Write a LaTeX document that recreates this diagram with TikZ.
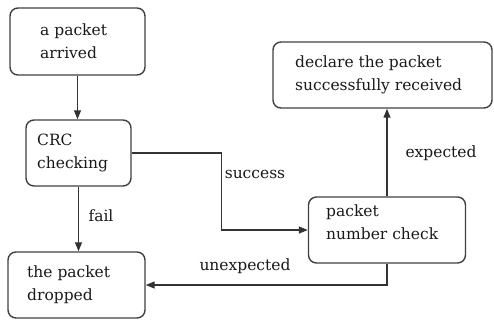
\documentclass[tikz,border=0pt]{standalone}
\usepackage{fontspec}
\setmainfont{DejaVu Serif}
\usetikzlibrary{arrows.meta}
\begin{document}
\begin{tikzpicture}[x=1pt,y=-1pt,
  box/.style={draw=black!75,line width=1.4pt,rounded corners=8pt,inner sep=0pt},
  txt/.style={align=left,inner sep=0pt,font=\fontsize{15.5}{23}\selectfont,text=black!90},
  lbl/.style={inner sep=0pt,font=\fontsize{15.5}{23}\selectfont,text=black!90},
  conn/.style={draw=black!80,line width=1.3pt,-{Triangle[length=9pt,width=7pt]}}]
\useasboundingbox (0,0) rectangle (494,322);
% boxes
\node[box,minimum width=135pt,minimum height=67pt] (A) at (77.5,41.5) {};
\node[txt,anchor=west] (At) at (40,41.5) {a packet\\arrived};
\node[box,minimum width=105pt,minimum height=66pt] (C) at (78.5,153) {};
\node[txt,anchor=west] (Ct) at (37,153) {CRC\\checking};
\node[box,minimum width=137pt,minimum height=66pt] (D) at (76.5,285) {};
\node[txt,anchor=west] (Dt) at (27,285) {the packet\\dropped};
\node[box,minimum width=219pt,minimum height=66pt] (S) at (382.5,75) {};
\node[txt,anchor=west] (St) at (295,75) {declare the packet\\successfully received};
\node[box,minimum width=157pt,minimum height=66pt] (P) at (387,230) {};
\node[txt,anchor=west] (Pt) at (326,222) {packet\\number check};
% connectors
\draw[conn] (A.south) -- (A.south |- C.north);
\draw[conn] (C.south) -- (C.south |- D.north);
\draw[conn] (C.east) -- ++(90,0) |- (P.west);
\draw[conn] (P.north) -- (P.north |- S.south);
\draw[conn] (P.south) |- (D.east);
% labels
\node[lbl] (lf) at (101,216) {fail};
\node[lbl] (ls) at (255,174) {success};
\node[lbl] (le) at (441,153) {expected};
\node[lbl] (lu) at (245,266) {unexpected};
\end{tikzpicture}
\end{document}
